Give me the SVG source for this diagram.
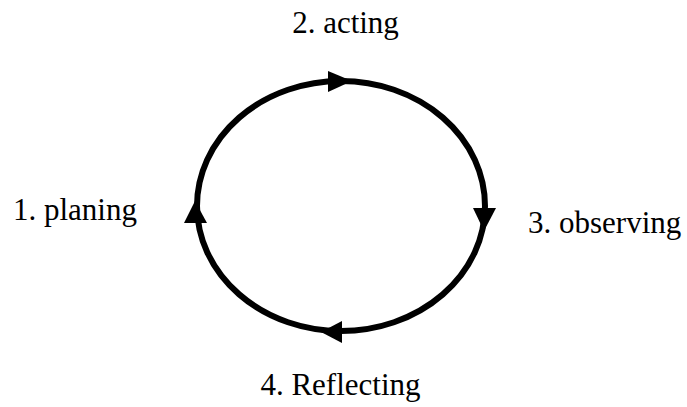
<svg xmlns="http://www.w3.org/2000/svg" width="687" height="407" viewBox="0 0 687 407">
<style>
.ring{fill:none;stroke:#000;stroke-width:6}
.head{fill:#000;stroke:none}
</style>
<rect width="687" height="407" fill="#fff"/>
<g id="connectors">
<ellipse class="ring" cx="341" cy="206" rx="144" ry="125"/>
<polygon class="head" points="328,71 352,81 328,92"/>
<polygon class="head" points="473,208 496,208 484,231"/>
<polygon class="head" points="342,321 342,343 321,332"/>
<polygon class="head" points="184,223 207,223 195,201"/>
</g>
<g font-family="Liberation Serif, DejaVu Serif, serif" font-size="31" fill="#000">
<g id="n1"><text x="13" y="220">1. planing</text></g>
<g id="n2"><text x="345.5" y="33" text-anchor="middle">2. acting</text></g>
<g id="n3"><text x="528" y="233">3. observing</text></g>
<g id="n4"><text x="340.5" y="395" text-anchor="middle">4. Reflecting</text></g>
</g>
</svg>
